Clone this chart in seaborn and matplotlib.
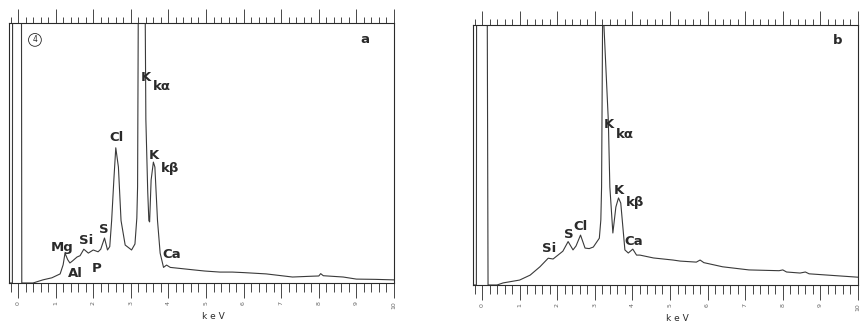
import matplotlib
matplotlib.use("Agg")
import matplotlib.pyplot as plt
import seaborn as sns
import pandas as pd
from matplotlib.ticker import MultipleLocator, FixedLocator, FixedFormatter

sns.set_style("white")
plt.rcParams['font.family'] = ['DejaVu Sans']

# ---- data: energy (keV) and counts (% of full scale) ----
a_kev = [-0.24, -0.15, -0.13, 0.07, 0.10, 0.40, 0.66, 0.90, 1.12, 1.20, 1.25, 1.32, 1.38, 1.45,
         1.57, 1.65, 1.75, 1.87, 2.00, 2.13, 2.20, 2.30, 2.38, 2.44, 2.49, 2.55, 2.60, 2.67,
         2.74, 2.85, 3.02, 3.11, 3.16, 3.18, 3.20, 3.29, 3.38, 3.40, 3.45, 3.48, 3.50, 3.54,
         3.60, 3.64, 3.71, 3.78, 3.87, 3.95, 4.05, 4.18, 4.70, 4.97, 5.37, 5.70, 6.00, 6.60,
         7.30, 7.80, 8.00, 8.05, 8.12, 8.65, 9.00, 9.50, 10.0]
a_cts = [0, 0, 400, 400, 0, 0, 1.2, 2.0, 3.5, 7.0, 11.5, 9.0, 7.7, 8.5,
         10.0, 10.5, 13.0, 11.5, 12.7, 12.0, 13.0, 17.3, 12.7, 14.0, 24.0, 40.0, 52.0, 44.6,
         24.0, 14.6, 12.7, 15.0, 25.0, 37.0, 110, 400, 110, 63.0, 35.0, 24.0, 23.5, 39.6,
         46.5, 44.6, 24.0, 11.5, 6.0, 6.9, 6.0, 5.8, 5.0, 4.6, 4.2, 4.2, 4.0, 3.5,
         2.3, 2.6, 2.7, 3.6, 2.8, 2.3, 1.5, 1.4, 1.2]

b_kev = [-0.24, -0.15, -0.13, 0.08, 0.16, 0.40, 0.56, 1.00, 1.28, 1.54, 1.76, 1.89, 2.02, 2.15,
         2.29, 2.42, 2.50, 2.62, 2.74, 2.85, 2.96, 3.12, 3.16, 3.18, 3.21, 3.26, 3.31, 3.36,
         3.40, 3.48, 3.56, 3.63, 3.69, 3.76, 3.80, 3.89, 4.01, 4.11, 4.20, 4.56, 5.08, 5.27,
         5.70, 5.80, 5.90, 6.40, 7.10, 7.90, 8.00, 8.10, 8.46, 8.60, 8.70, 9.20, 10.0]
b_cts = [0, 0, 400, 400, 0, 0, 0.8, 1.9, 3.8, 7.0, 10.3, 10.0, 11.5, 13.0,
         16.7, 13.5, 15.0, 19.2, 14.2, 14.0, 14.6, 18.0, 25.0, 37.7, 110, 400, 110, 63.0,
         37.7, 20.0, 30.0, 33.5, 31.5, 20.0, 13.5, 12.3, 13.8, 11.5, 11.5, 10.4, 9.6, 9.2,
         8.8, 9.6, 8.6, 7.0, 5.8, 5.5, 5.8, 5.0, 4.6, 5.0, 4.3, 3.8, 3.0]

tick_values = list(range(0, 11))
tick_labels = [str(v) for v in tick_values]

# labels: (text, keV, counts)
a_labels = [("Mg", 1.16, 13.8), ("Si", 1.80, 16.5), ("S", 2.29, 20.4), ("Al", 1.52, 3.5),
            ("P", 2.09, 5.4), ("Cl", 2.61, 55.8), ("K", 3.40, 79.0), ("kα", 3.82, 75.4),
            ("K", 3.62, 49.2), ("kβ", 4.04, 44.2), ("Ca", 4.08, 10.8)]
b_labels = [("Si", 1.78, 14.0), ("S", 2.31, 19.6), ("Cl", 2.63, 22.5), ("K", 3.38, 61.9),
            ("kα", 3.80, 57.7), ("K", 3.63, 36.2), ("kβ", 4.06, 31.7), ("Ca", 4.04, 16.7)]

W, H = 861, 322
fig = plt.figure(figsize=(W / 100, H / 100), dpi=100)
fig.patch.set_facecolor("white")

ink = "#2a2a2a"
line_c = "#3a3a3a"

def make_panel(px0, px1, ptop, pbot):
    return fig.add_axes([px0 / W, 1 - pbot / H, (px1 - px0) / W, (pbot - ptop) / H])

axA = make_panel(9, 394, 23, 283)
axB = make_panel(473, 858, 25, 285)

for ax, kev, cts, labels, letter, lpos in [
    (axA, a_kev, a_cts, a_labels, "a", (9.23, 93.8)),
    (axB, b_kev, b_cts, b_labels, "b", (9.45, 94.2)),
]:
    df = pd.DataFrame({"keV": kev, "counts": cts})
    sns.lineplot(data=df, x="keV", y="counts", ax=ax, color=line_c, linewidth=0.8,
                 estimator=None, sort=False)
    ax.set_xlim(-0.24, 10.0)
    ax.set_ylim(0, 100)
    ax.set_xlabel("")
    ax.set_ylabel("")
    ax.set_yticks([])
    ax.set_facecolor("white")
    for sp in ax.spines.values():
        sp.set_visible(True)
        sp.set_color(ink)
        sp.set_linewidth(0.8)
    # bottom ticks
    ax.xaxis.set_major_locator(FixedLocator(tick_values))
    ax.xaxis.set_major_formatter(FixedFormatter(tick_labels))
    ax.xaxis.set_minor_locator(MultipleLocator(0.2))
    ax.tick_params(axis="x", which="major", direction="out", length=11, width=0.6,
                   color=ink, labelsize=4.5, labelcolor="#666666", rotation=90, pad=2,
                   bottom=True, top=False)
    ax.tick_params(axis="x", which="minor", direction="out", length=6.5, width=0.6,
                   color=ink, bottom=True, top=False)
    # top ticks
    sec = ax.secondary_xaxis("top")
    sec.xaxis.set_major_locator(FixedLocator(tick_values))
    sec.xaxis.set_minor_locator(MultipleLocator(0.2))
    sec.tick_params(axis="x", which="major", direction="out", length=10, width=0.6,
                    color=ink, labeltop=False)
    sec.tick_params(axis="x", which="minor", direction="out", length=4.3, width=0.6,
                    color=ink)
    sec.spines["top"].set_visible(False)
    # element labels
    for txt, x, y in labels:
        ax.text(x, y, txt, ha="center", va="center", fontsize=9.5, fontweight="bold",
                color=ink)
    ax.text(lpos[0], lpos[1], letter, ha="center", va="center", fontsize=9.5,
            fontweight="bold", color=ink)
    ax.text(5.2, -0.13, "k e V", transform=ax.get_xaxis_transform(), ha="center",
            va="center", fontsize=6.5, color=ink)

axA.text(0.45, 93.5, "4", ha="center", va="center", fontsize=5.5, color=ink,
         bbox=dict(boxstyle="circle,pad=0.25", fc="white", ec=ink, lw=0.6))

fig.savefig("out.png", dpi=100, facecolor="white")
